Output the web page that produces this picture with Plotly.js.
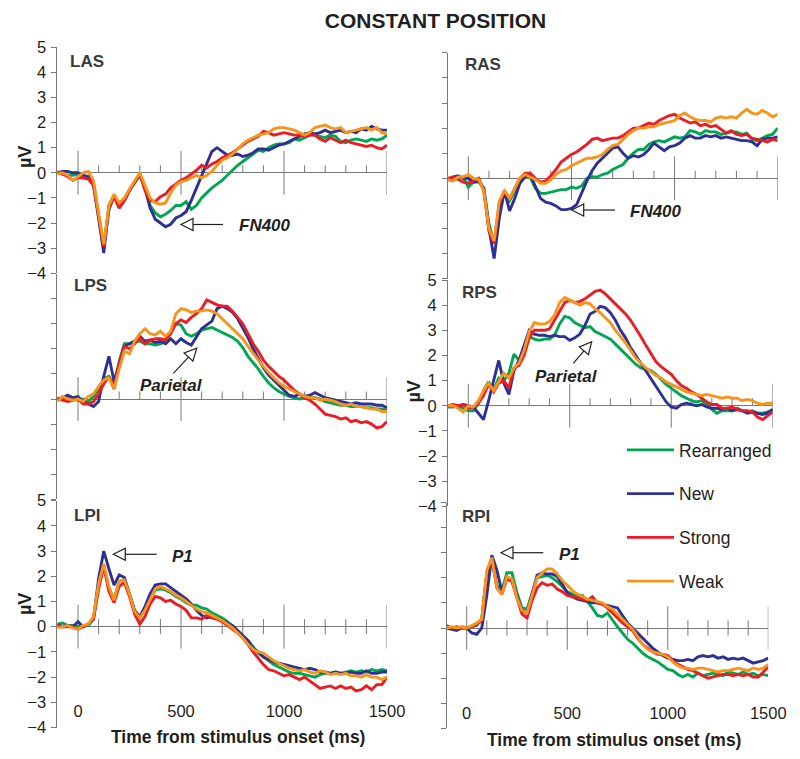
<!DOCTYPE html>
<html><head><meta charset="utf-8">
<script src="https://cdn.plot.ly/plotly-3.0.1.min.js"></script>
<style>html,body{margin:0;padding:0;background:#fff;}#chart{width:800px;height:759px;}</style>
</head><body><div id="chart"></div>
<script>
// ---------- data ----------
const timeMs = [-100,-75,-50,-25,0,25,50,75,100,125,150,175,200,225,250,275,300,325,350,375,400,425,450,475,500,525,550,575,600,625,650,675,700,725,750,775,800,825,850,875,900,925,950,975,1000,1025,1050,1075,1100,1125,1150,1175,1200,1225,1250,1275,1300,1325,1350,1375,1400,1425,1450,1475,1500];
const conditions = ['Rearranged','New','Strong','Weak'];
const panelNames = ['LAS','RAS','LPS','RPS','LPI','RPI'];
const xTickVals = [0,500,1000,1500];
const xTickLabels = ['0','500','1000','1500'];
const xSmallTicks = [0,100,200,300,400,500,600,700,800,900,1000,1100,1200,1300,1400,1500];
const yTickVals = [-4,-3,-2,-1,0,1,2,3,4,5];

// LAS
const lasRearranged = [0,-0.05,-0.1,-0.1,-0.05,-0.2,-0.15,-0.4,-1.7,-3.0,-1.5,-0.9,-1.25,-1.05,-0.7,-0.4,-0.1,-0.6,-1.3,-1.6,-1.75,-1.65,-1.5,-1.3,-1.3,-1.15,-1.45,-1.3,-1.0,-0.8,-0.6,-0.45,-0.3,-0.1,0.1,0.3,0.45,0.6,0.75,0.9,0.85,1.0,1.1,1.15,1.15,1.2,1.35,1.3,1.4,1.5,1.5,1.45,1.4,1.5,1.45,1.25,1.2,1.3,1.35,1.3,1.25,1.35,1.3,1.35,1.5];
const lasNew = [0,0.05,0.05,0,0,-0.1,-0.15,-0.5,-1.8,-3.2,-1.3,-0.9,-1.4,-1.1,-0.7,-0.35,-0.05,-0.6,-1.4,-1.85,-2.0,-2.15,-2.05,-1.8,-1.7,-1.55,-1.1,-0.6,-0.1,0.35,0.85,1.0,0.85,0.7,0.7,0.75,0.65,0.7,0.8,0.95,0.95,0.9,1.0,1.1,1.15,1.25,1.35,1.45,1.55,1.6,1.55,1.6,1.7,1.6,1.65,1.7,1.6,1.65,1.6,1.75,1.7,1.85,1.75,1.7,1.7];
const lasStrong = [0.05,-0.05,-0.15,-0.3,-0.2,-0.2,-0.25,-0.5,-1.8,-2.95,-1.4,-0.95,-1.4,-1.1,-0.7,-0.35,-0.05,-0.7,-1.1,-1.15,-0.95,-0.85,-0.6,-0.45,-0.3,-0.2,-0.05,0.1,0.3,0.2,0.35,0.45,0.6,0.7,0.8,0.95,1.1,1.25,1.35,1.45,1.65,1.6,1.5,1.55,1.6,1.55,1.5,1.5,1.45,1.5,1.5,1.35,1.25,1.4,1.3,1.2,1.3,1.2,1.15,1.1,1.05,1.1,1.0,0.95,1.1];
const lasWeak = [-0.05,0,-0.1,-0.3,-0.15,0,0.05,-0.3,-1.6,-2.85,-1.3,-0.85,-1.2,-1.0,-0.65,-0.3,0,-0.5,-1.0,-1.2,-1.25,-1.2,-0.8,-0.5,-0.35,-0.3,-0.2,-0.1,-0.2,-0.1,0.05,0.3,0.5,0.6,0.75,0.95,1.15,1.3,1.4,1.5,1.55,1.6,1.75,1.8,1.8,1.75,1.7,1.6,1.5,1.6,1.8,1.85,1.9,1.8,1.75,1.8,1.6,1.65,1.7,1.75,1.8,1.7,1.8,1.6,1.55];
// RAS
const rasRearranged = [-0.05,-0.1,0,0.05,-0.35,-0.15,-0.15,-0.4,-1.8,-2.6,-1.2,-0.6,-0.9,-0.5,-0.1,0.1,0.05,-0.4,-0.6,-0.6,-0.55,-0.5,-0.45,-0.45,-0.35,-0.4,-0.3,0,0.05,0.05,0.15,0.2,0.35,0.45,0.55,0.8,1.0,1.15,1.15,1.35,1.45,1.5,1.45,1.55,1.65,1.6,1.65,1.9,1.85,1.75,1.9,1.85,1.85,1.75,1.8,1.85,1.85,1.75,1.8,1.55,1.5,1.6,1.7,1.75,2.0];
const rasNew = [-0.05,0.05,0.1,0,0,-0.15,-0.1,-0.4,-2.0,-3.2,-1.6,-0.5,-1.3,-0.8,-0.2,0.05,0.15,-0.3,-0.8,-0.95,-1.0,-1.1,-1.25,-1.25,-1.2,-1.05,-0.55,-0.1,0.3,0.6,0.8,1.0,1.2,1.25,1.0,0.8,0.9,0.85,0.95,1.15,1.4,1.25,1.1,1.25,1.3,1.4,1.6,1.7,1.6,1.6,1.7,1.65,1.7,1.6,1.65,1.6,1.55,1.5,1.5,1.45,1.3,1.55,1.6,1.6,1.65];
const rasStrong = [0,0.05,-0.05,-0.15,-0.2,-0.1,0,-0.5,-2.1,-2.6,-1.0,-0.5,-0.8,-0.4,0,0.2,0.2,0,-0.15,-0.1,0.1,0.35,0.65,0.8,0.95,1.05,1.2,1.35,1.55,1.6,1.5,1.55,1.6,1.6,1.7,1.85,2.0,2.0,2.1,2.2,2.15,2.3,2.4,2.5,2.55,2.4,2.3,2.2,2.25,2.1,2.15,2.05,2.1,1.95,1.8,1.9,1.75,1.7,1.75,1.6,1.55,1.5,1.45,1.55,1.5];
const rasWeak = [-0.05,-0.1,0.05,0.05,0.15,0,-0.05,-0.5,-2.0,-2.5,-0.9,-0.5,-0.8,-0.4,0,0.15,0.05,-0.05,-0.2,-0.2,-0.05,0.15,0.3,0.35,0.5,0.6,0.7,0.8,0.8,0.85,0.95,1.15,1.3,1.35,1.55,1.75,1.9,2.0,2.0,2.05,2.05,2.15,2.2,2.25,2.3,2.5,2.6,2.45,2.35,2.3,2.3,2.25,2.4,2.45,2.4,2.45,2.4,2.6,2.75,2.6,2.55,2.7,2.6,2.45,2.55];
// LPS
const lpsRearranged = [0,0,0.05,0,-0.05,0,-0.1,0.1,0.4,0.8,0.9,0.5,1.5,2.2,2.2,2.3,2.3,2.2,2.2,2.15,2.2,2.3,2.65,3.0,2.95,2.6,2.5,2.6,2.75,2.8,2.85,2.75,2.65,2.55,2.45,2.3,2.05,1.7,1.45,1.2,0.9,0.65,0.45,0.3,0.2,0.1,0.05,0,0.05,0.1,0.05,0,-0.1,-0.15,-0.2,-0.25,-0.25,-0.3,-0.3,-0.3,-0.35,-0.35,-0.4,-0.4,-0.45];
const lpsNew = [0,0.05,0.15,0.05,0.1,-0.1,-0.2,-0.3,-0.1,0.9,1.7,0.7,1.4,2.1,2.2,2.3,2.5,2.3,2.35,2.25,2.3,2.2,2.4,2.2,2.4,2.25,2.15,2.5,2.8,2.95,3.1,3.6,3.7,3.6,3.45,3.2,2.85,2.45,2.0,1.6,1.25,0.95,0.75,0.55,0.35,0.15,0.1,0.2,0.1,0.15,0.25,0.15,0.05,0,-0.05,-0.1,-0.15,-0.2,-0.15,-0.2,-0.2,-0.2,-0.25,-0.25,-0.35];
const lpsStrong = [0.05,-0.05,-0.1,-0.05,0,-0.2,-0.2,-0.1,0.2,0.6,0.9,0.4,1.4,2.1,2.0,2.2,2.45,2.2,2.35,2.4,2.4,2.35,2.6,3.0,3.15,3.05,3.25,3.4,3.6,3.95,3.85,3.75,3.7,3.7,3.5,3.25,3.0,2.6,2.2,1.9,1.55,1.3,1.1,0.9,0.75,0.55,0.35,0.2,0.05,-0.05,-0.2,-0.4,-0.6,-0.65,-0.7,-0.8,-0.75,-0.9,-0.85,-0.95,-0.9,-1.0,-1.15,-1.1,-0.9];
const lpsWeak = [-0.1,0.1,0,-0.05,0,-0.1,0.1,0.2,0.5,0.75,0.85,0.4,1.2,1.9,1.8,2.3,2.6,2.8,2.6,2.55,2.7,2.5,2.7,3.4,3.6,3.55,3.45,3.5,3.5,3.55,3.5,3.4,3.2,3.0,2.8,2.6,2.4,2.1,1.8,1.55,1.3,1.05,0.85,0.65,0.5,0.4,0.3,0.2,0.1,0.05,0.05,-0.05,0,-0.05,-0.1,-0.2,-0.25,-0.2,-0.3,-0.3,-0.35,-0.4,-0.4,-0.5,-0.5];
// RPS
const rpsRearranged = [-0.05,-0.05,0,-0.1,-0.2,-0.2,0.1,0.6,0.95,0.6,1.1,1.0,1.3,2.05,1.8,2.3,2.75,2.65,2.6,2.65,2.65,2.8,3.25,3.55,3.5,3.3,3.2,3.1,3.15,2.95,2.85,2.75,2.65,2.45,2.25,2.05,1.85,1.65,1.5,1.45,1.4,1.25,1.05,0.85,0.7,0.55,0.4,0.3,0.2,0.15,0.2,0.05,-0.15,-0.3,-0.2,-0.2,-0.2,-0.1,-0.2,-0.25,-0.2,-0.3,-0.3,-0.25,-0.15];
const rpsNew = [0,0,-0.05,0.05,0,-0.05,-0.3,-0.55,0.2,1.0,1.8,0.9,0.45,1.4,1.8,2.4,3.0,2.85,2.8,2.8,2.75,2.8,2.75,2.75,2.6,2.7,2.85,3.2,3.65,3.75,3.95,3.9,3.7,3.4,3.0,2.7,2.3,2.0,1.7,1.35,1.1,0.8,0.5,0.15,-0.05,-0.1,0.05,0.1,0.05,0,0.05,-0.05,-0.1,-0.1,-0.15,-0.1,-0.2,-0.15,-0.2,-0.3,-0.25,-0.3,-0.35,-0.3,-0.15];
const rpsStrong = [0,0.05,0,0.05,-0.1,-0.05,0.1,0.4,0.85,0.55,0.9,1.0,0.7,1.5,1.6,2.0,2.7,3.0,3.0,3.0,3.05,3.4,3.8,4.1,4.2,4.1,4.15,4.25,4.4,4.55,4.6,4.45,4.25,4.05,3.85,3.65,3.4,3.1,2.75,2.4,2.05,1.75,1.55,1.4,1.25,1.0,0.8,0.7,0.55,0.45,0.3,0.15,0.05,0.05,-0.1,-0.1,-0.05,-0.15,-0.2,-0.2,-0.25,-0.45,-0.55,-0.4,-0.25];
const rpsWeak = [0,0,-0.1,-0.25,0,-0.05,0.2,0.6,0.9,0.6,0.95,1.3,1.1,1.5,1.7,2.2,2.95,3.3,3.25,3.25,3.35,3.6,4.1,4.3,4.2,4.1,4.0,4.1,4.05,3.85,3.7,3.5,3.3,3.0,2.75,2.5,2.2,1.9,1.7,1.5,1.35,1.2,1.1,0.95,0.85,0.75,0.65,0.55,0.5,0.45,0.4,0.45,0.4,0.35,0.3,0.35,0.3,0.3,0.2,0.25,0.2,0.1,0.05,0.1,0.1];
// LPI
const lpiRearranged = [0.1,0.15,0.05,0.05,0,0.05,0.05,0.3,1.6,2.4,1.5,1.1,1.8,1.85,1.3,0.6,0.35,0.7,1.15,1.45,1.5,1.45,1.35,1.2,1.1,0.95,0.85,0.85,0.75,0.7,0.55,0.45,0.35,0.2,0,-0.2,-0.4,-0.55,-0.8,-1.05,-1.2,-1.35,-1.5,-1.6,-1.7,-1.8,-1.85,-1.85,-1.9,-1.95,-2.0,-1.9,-1.85,-1.85,-1.8,-1.85,-1.8,-1.75,-1.8,-1.75,-1.8,-1.7,-1.75,-1.7,-1.75];
const lpiNew = [0.1,0,0.05,0,0.2,0,0.1,0.3,1.9,3.0,2.3,1.65,2.05,1.95,1.3,0.65,0.4,0.8,1.3,1.65,1.7,1.7,1.55,1.4,1.25,1.1,0.9,0.65,0.45,0.35,0.4,0.35,0.25,0.15,0.05,-0.15,-0.35,-0.55,-0.85,-1.0,-1.2,-1.3,-1.4,-1.45,-1.5,-1.55,-1.6,-1.65,-1.7,-1.65,-1.7,-1.8,-1.8,-1.85,-1.8,-1.85,-1.85,-1.8,-1.85,-1.85,-1.75,-1.85,-1.85,-1.8,-1.8];
const lpiStrong = [0.05,0,0,0,-0.1,0,0.1,0.3,1.5,2.4,1.4,0.95,1.6,1.75,1.2,0.5,0.1,0.4,0.9,1.2,1.15,1.0,1.05,0.9,0.8,0.65,0.35,0.35,0.3,0.45,0.35,0.3,0.2,0.05,-0.1,-0.25,-0.45,-0.7,-1.0,-1.25,-1.5,-1.7,-1.75,-1.85,-1.95,-1.9,-2.0,-2.1,-2.0,-2.15,-2.3,-2.45,-2.4,-2.35,-2.45,-2.35,-2.45,-2.4,-2.55,-2.5,-2.35,-2.5,-2.3,-2.3,-2.0];
const lpiWeak = [-0.05,0,0.05,-0.05,-0.1,0.05,0.1,0.4,1.7,2.5,1.6,1.05,1.8,1.85,1.3,0.6,0.35,0.65,1.1,1.5,1.6,1.5,1.4,1.25,1.15,1.0,0.85,0.7,0.6,0.55,0.45,0.35,0.25,0.1,-0.05,-0.25,-0.45,-0.7,-0.9,-1.0,-1.05,-1.2,-1.35,-1.45,-1.55,-1.65,-1.7,-1.75,-1.7,-1.8,-1.85,-1.75,-1.8,-1.9,-1.85,-1.9,-1.85,-1.95,-1.95,-2.0,-1.9,-2.0,-2.0,-2.1,-2.0];
// RPI
const rpiRearranged = [0.1,0,-0.05,0.05,0,0.05,0.1,0.4,2.2,2.7,1.7,1.5,2.2,2.2,1.4,0.8,0.75,1.4,2.0,2.05,2.1,2.0,1.85,1.65,1.45,1.35,1.25,1.3,1.05,0.8,0.5,0.45,0.6,0.3,0.05,-0.2,-0.45,-0.6,-0.8,-1.0,-1.15,-1.25,-1.35,-1.5,-1.65,-1.7,-1.85,-1.95,-1.85,-1.95,-1.8,-1.9,-1.85,-1.8,-1.85,-1.9,-1.75,-1.8,-1.85,-1.75,-1.85,-1.8,-1.9,-1.85,-1.9];
const rpiNew = [0,-0.05,-0.1,0,0,-0.2,-0.25,0,1.3,2.9,2.3,1.45,2.0,1.9,1.3,0.7,0.6,1.3,2.1,2.2,2.15,2.15,2.05,1.75,1.4,1.25,1.15,1.1,1.05,1.0,1.0,0.95,0.9,0.85,0.8,0.5,0.2,0,-0.2,-0.4,-0.6,-0.8,-0.95,-1.1,-1.2,-1.25,-1.3,-1.3,-1.25,-1.3,-1.15,-1.1,-1.15,-1.1,-1.2,-1.15,-1.25,-1.2,-1.25,-1.2,-1.3,-1.4,-1.35,-1.3,-1.2];
const rpiStrong = [0.05,0,0.05,0,0,0.05,0.15,0.3,2.2,2.8,1.6,1.35,1.95,1.85,1.2,0.55,0.4,1.1,1.6,1.8,1.7,1.75,1.55,1.45,1.3,1.25,1.2,1.15,1.1,1.25,1.0,0.95,0.8,0.6,0.4,0.2,0.05,-0.1,-0.4,-0.65,-0.8,-0.95,-1.05,-1.05,-1.1,-1.3,-1.45,-1.55,-1.65,-1.7,-1.8,-1.9,-2.0,-1.95,-1.9,-1.85,-1.85,-1.9,-1.85,-1.9,-1.85,-1.95,-1.95,-1.75,-1.55];
const rpiWeak = [0,0.05,0,0.05,0,0.1,0.2,0.35,2.3,2.8,1.6,1.35,2.05,1.95,1.2,0.7,0.6,1.3,2.0,2.2,2.35,2.35,2.15,1.9,1.7,1.5,1.35,1.25,1.15,1.1,1.05,1.0,0.85,0.75,0.55,0.35,0.15,-0.05,-0.35,-0.65,-0.85,-0.95,-1.0,-1.05,-1.15,-1.35,-1.5,-1.6,-1.6,-1.65,-1.6,-1.6,-1.65,-1.7,-1.75,-1.7,-1.7,-1.65,-1.6,-1.65,-1.7,-1.6,-1.65,-1.6,-1.45];

// ---------- style / layout ----------
const W = 800, H = 759;
const FONT = 'Liberation Sans, Arial, Helvetica, sans-serif';
const TXT = '#231f20';
const AX = '#77787b';
const lineColors = ['#00a651', '#2e3192', '#ed1c24', '#f7941d'];

const panels = [
  {xd:[57.4,387], yd:[47.3,273.2], series:[lasRearranged,lasNew,lasStrong,lasWeak], yLab:true, bottom:false, lab:[68,61.5], uv:[25,157]},
  {xd:[447.7,777.7], yd:[52.8,278.7], series:[rasRearranged,rasNew,rasStrong,rasWeak], yLab:false, bottom:false, lab:[463,64]},
  {xd:[57.4,387], yd:[273.5,499.4], series:[lpsRearranged,lpsNew,lpsStrong,lpsWeak], yLab:false, bottom:false, lab:[71.5,285]},
  {xd:[448,772.7], yd:[280,506.3], series:[rpsRearranged,rpsNew,rpsStrong,rpsWeak], yLab:true, bottom:false, lab:[460,292], uv:[413.5,392]},
  {xd:[57.4,387], yd:[500.7,727.5], series:[lpiRearranged,lpiNew,lpiStrong,lpiWeak], yLab:true, bottom:true, lab:[71.5,515.5], xpos:699, uv:[25,604]},
  {xd:[446.6,768.3], yd:[502.5,728.4], series:[rpiRearranged,rpiNew,rpiStrong,rpiWeak], yLab:false, bottom:true, lab:[460,516], xpos:701.5}
];

const px = v => v / W;
const py = v => 1 - v / H;

const traces = [];
const layout = {
  width: W, height: H, autosize: false,
  margin: {l:0, r:0, t:0, b:0, pad:0},
  paper_bgcolor: '#ffffff', plot_bgcolor: 'rgba(0,0,0,0)',
  font: {family: FONT, color: TXT},
  title: {text: 'CONSTANT POSITION', x: px(435.5), xanchor: 'center', xref: 'paper',
          y: py(20.5), yanchor: 'middle', yref: 'container',
          font: {family: FONT, size: 21, weight: 'bold', color: TXT}},
  showlegend: true,
  legend: {x: px(622), xanchor: 'left', y: py(432), yanchor: 'top',
           font: {family: FONT, size: 17.5, color: TXT},
           traceorder: 'grouped', tracegroupgap: 18, itemwidth: 47,
           bgcolor: 'rgba(0,0,0,0)', borderwidth: 0},
  shapes: [], annotations: []
};

panels.forEach((p, i) => {
  const n = i === 0 ? '' : String(i + 1);
  const xa = 'x' + n, ya = 'y' + n;
  const xaxis = {
    domain: [px(p.xd[0]), px(p.xd[1])], range: [-100, 1500],
    showline: false, zeroline: false, showgrid: false, ticks: '',
    showticklabels: p.bottom, tickvals: xTickVals, ticktext: xTickLabels,
    tickfont: {family: FONT, size: 16.5, color: TXT}, fixedrange: true
  };
  if (p.bottom) { xaxis.anchor = 'free'; xaxis.position = py(p.xpos); }
  else { xaxis.anchor = ya; }
  const yaxis = {
    domain: [py(p.yd[1]), py(p.yd[0])], range: [-4, 5], anchor: xa,
    tickvals: yTickVals, ticks: 'outside', ticklen: 5, tickwidth: 1, tickcolor: AX,
    showline: true, linecolor: AX, linewidth: 1,
    zeroline: true, zerolinecolor: AX, zerolinewidth: 1, showgrid: false,
    showticklabels: p.yLab, ticklabelstandoff: 2,
    tickfont: {family: FONT, size: 16.5, color: TXT}, fixedrange: true
  };
  layout['xaxis' + n] = xaxis;
  layout['yaxis' + n] = yaxis;

  p.series.forEach((s, k) => {
    traces.push({
      type: 'scatter', mode: 'lines', x: timeMs, y: s, xaxis: xa, yaxis: ya,
      name: conditions[k], legendgroup: conditions[k], showlegend: i === 0,
      line: {color: lineColors[k], width: 2.9}, hoverinfo: 'skip'
    });
  });

  // tick marks on the zero line
  xSmallTicks.forEach(t => {
    const major = xTickVals.includes(t);
    layout.shapes.push({
      type: 'line', xref: xa, yref: ya, x0: t, x1: t,
      y0: major ? -0.87 : (p.bottom ? -0.3 : 0), y1: major ? 0.87 : 0.3,
      line: {color: AX, width: 1}, layer: 'below'
    });
  });

  layout.annotations.push({
    text: panelNames[i], xref: 'paper', yref: 'paper', x: px(p.lab[0]), y: py(p.lab[1]),
    xanchor: 'left', yanchor: 'middle', showarrow: false,
    font: {family: FONT, size: 17, weight: 'bold', color: '#3a3a3c'}
  });
  if (p.uv) {
    layout.annotations.push({
      text: 'µV', xref: 'paper', yref: 'paper', x: px(p.uv[0]), y: py(p.uv[1]),
      xanchor: 'center', yanchor: 'middle', textangle: -90, showarrow: false,
      font: {family: FONT, size: 18, weight: 'bold', color: TXT}
    });
  }
});

// x-axis titles
[[237.5, 737], [614, 740]].forEach(c => {
  layout.annotations.push({
    text: 'Time from stimulus onset (ms)', xref: 'paper', yref: 'paper',
    x: px(c[0]), y: py(c[1]), xanchor: 'center', yanchor: 'middle', showarrow: false,
    font: {family: FONT, size: 17.5, weight: 'bold', color: TXT}
  });
});

// component labels with open-head arrows
const callouts = [
  {text: 'FN400', pos: [237, 225], tail: [223, 224.5], tip: [181, 224.5]},
  {text: 'FN400', pos: [628, 211.5], tail: [615, 210], tip: [571.7, 210]},
  {text: 'Parietal', pos: [138, 385], tail: [173.3, 373.3], tip: [196.7, 348.3]},
  {text: 'Parietal', pos: [533, 376.5], tail: [573.3, 363.3], tip: [591.7, 341.7]},
  {text: 'P1', pos: [170, 556], tail: [156.7, 554.3], tip: [113.3, 554.3]},
  {text: 'P1', pos: [556.7, 554], tail: [543.3, 552.7], tip: [501, 552.7]}
];
callouts.forEach(c => {
  layout.annotations.push({
    text: c.text, xref: 'paper', yref: 'paper', x: px(c.pos[0]), y: py(c.pos[1]),
    xanchor: 'left', yanchor: 'middle', showarrow: false,
    font: {family: FONT, size: 17, weight: 'bold', style: 'italic', color: TXT}
  });
  const dx = c.tip[0] - c.tail[0], dy = c.tip[1] - c.tail[1];
  const len = Math.hypot(dx, dy), ux = dx / len, uy = dy / len;
  const L = 12, Wd = 6;
  const bx = c.tip[0] - ux * L, by = c.tip[1] - uy * L;
  const p1 = [bx - uy * Wd, by + ux * Wd], p2 = [bx + uy * Wd, by - ux * Wd];
  layout.shapes.push({type: 'line', xref: 'paper', yref: 'paper',
    x0: px(c.tail[0]), y0: py(c.tail[1]), x1: px(bx), y1: py(by),
    line: {color: TXT, width: 1.2}, layer: 'above'});
  layout.shapes.push({type: 'path', xref: 'paper', yref: 'paper',
    path: `M ${px(c.tip[0])} ${py(c.tip[1])} L ${px(p1[0])} ${py(p1[1])} L ${px(p2[0])} ${py(p2[1])} Z`,
    fillcolor: '#ffffff', line: {color: TXT, width: 1.2}, layer: 'above'});
});

Plotly.newPlot('chart', traces, layout, {displayModeBar: false, staticPlot: true});
</script>
</body></html>
